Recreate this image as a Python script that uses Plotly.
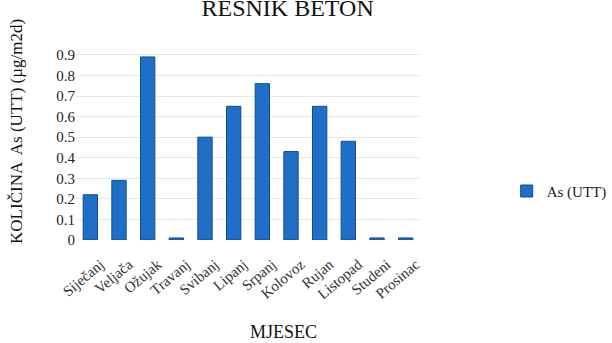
import plotly.graph_objects as go

months = ["Siječanj", "Veljača", "Ožujak", "Travanj", "Svibanj", "Lipanj",
          "Srpanj", "Kolovoz", "Rujan", "Listopad", "Studeni", "Prosinac"]
values = [0.22, 0.29, 0.89, 0.01, 0.50, 0.65, 0.76, 0.43, 0.65, 0.48, 0.01, 0.01]
y_ticks = [0, 0.1, 0.2, 0.3, 0.4, 0.5, 0.6, 0.7, 0.8, 0.9]
y_labels = ["0", "0.1", "0.2", "0.3", "0.4", "0.5", "0.6", "0.7", "0.8", "0.9"]

font = "Liberation Serif"

fig = go.Figure()
fig.add_trace(go.Bar(
    x=months, y=values, name="As (UTT)",
    marker=dict(color="#1f6fc6", line=dict(color="#0d4d94", width=1)),
))

fig.update_layout(
    width=612, height=343,
    margin=dict(l=76, r=192, t=45, b=103, autoexpand=False),
    paper_bgcolor="white", plot_bgcolor="white",
    bargap=0.5,
    font=dict(family=font, color="#222222", size=13),
    title=dict(text="RESNIK BETON", x=0.47, xanchor="center",
               y=0.978, yanchor="middle", font=dict(size=24, family=font, color="#111111")),
    showlegend=True,
    legend=dict(x=1.252, y=0.25, xanchor="left", yanchor="middle",
                font=dict(size=15, family=font), itemwidth=30),
    xaxis=dict(tickangle=-40, tickfont=dict(size=15, family=font, color="#333333"),
               ticklabelshift=10, ticklabelstandoff=12,
               showline=False, ticks="", automargin=False),
    yaxis=dict(range=[0, 0.948], tickvals=y_ticks, ticktext=y_labels,
               tickfont=dict(size=15, family=font, color="#222222"),
               showgrid=True, gridcolor="#e8e8e8", zeroline=False, automargin=False),
    annotations=[
        dict(text="MJESEC", xref="paper", yref="paper", x=0.602, y=-0.472,
             xanchor="center", yanchor="middle", showarrow=False,
             font=dict(size=18, family=font, color="#111111")),
        dict(text="KOLIČINA  As (UTT) (µg/m2d)", xref="paper", yref="paper",
             x=-0.1715, y=0.554, xanchor="center", yanchor="middle", textangle=-90,
             showarrow=False, font=dict(size=17, family=font, color="#111111")),
    ],
)

fig.write_html("out.html")
